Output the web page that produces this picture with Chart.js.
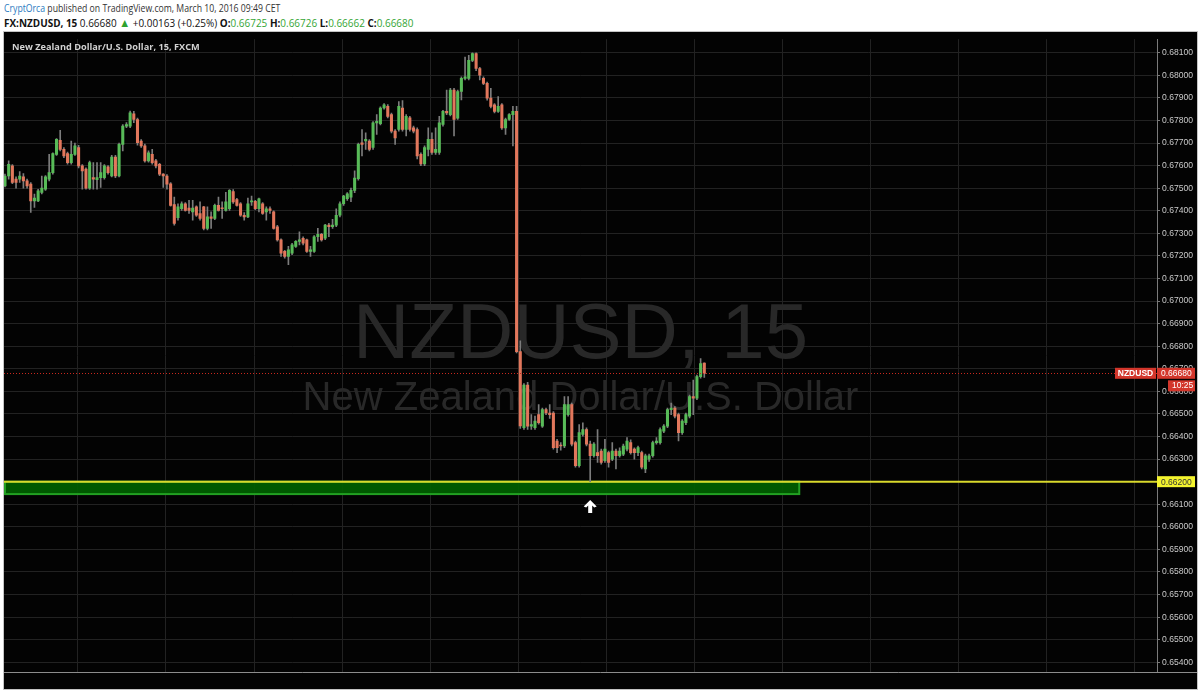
<!DOCTYPE html>
<html><head><meta charset="utf-8">
<script src="https://cdn.jsdelivr.net/npm/chart.js@4.4.0/dist/chart.umd.min.js"></script>
<style>
html,body{margin:0;padding:0;background:#fff;width:1200px;height:693px;overflow:hidden;}
.hdr{position:absolute;left:4px;white-space:nowrap;font-family:"Open Sans",sans-serif;font-size:10.8px;transform-origin:0 0;color:#333;}
#hdr1{top:0px;}
#hdr2{top:14px;color:#111;}
.g{color:#35a535;}
.tri{color:#2fa12f;font-size:12px;}
#panel{position:absolute;left:3px;top:31px;width:1193px;height:657px;border:1px solid #c4c4c4;background:#000;}
#legend{position:absolute;left:12px;top:40px;font:bold 9.5px "Open Sans",sans-serif;color:#d2d2d2;white-space:nowrap;transform-origin:0 0;}
canvas{display:block}
</style></head>
<body>
<div class="hdr" id="hdr1"><span style="color:#2b7bbf">CryptOrca</span> published on TradingView.com, March 10, 2016 09:49 CET</div>
<div class="hdr" id="hdr2"><b>FX:NZDUSD, 15</b> 0.66680 <span class="tri">&#9650;</span> +0.00163 (+0.25%) <b>O:</b><span class="g">0.66725</span> <b>H:</b><span class="g">0.66726</span> <b>L:</b><span class="g">0.66662</span> <b>C:</b><span class="g">0.66680</span></div>
<div id="panel"><canvas id="c" width="1193" height="657"></canvas></div>
<div id="legend">New Zealand Dollar/U.S. Dollar, 15, FXCM</div>
<script>
const opens = [
0.67510,0.67554,0.67599,0.67540,0.67540,0.67550,0.67532,0.67518,0.67444,0.67444,
0.67481,0.67496,0.67540,0.67569,0.67650,0.67712,0.67672,0.67653,0.67613,0.67650,
0.67680,0.67599,0.67584,0.67500,0.67547,0.67538,0.67547,0.67547,0.67594,0.67554,
0.67638,0.67554,0.67694,0.67775,0.67775,0.67829,0.67804,0.67709,0.67687,0.67621,
0.67650,0.67621,0.67606,0.67562,0.67554,
0.67519,0.67427,0.67369,0.67409,0.67431,0.67412,0.67395,0.67417,0.67388,0.67417,
0.67322,0.67373,0.67366,0.67424,0.67412,0.67402,0.67409,0.67485,0.67449,0.67431,
0.67380,0.67373,0.67439,0.67442,0.67409,0.67431,0.67395,0.67409,0.67395,0.67329,
0.67271,0.67220,0.67198,0.67212,0.67242,0.67264,0.67278,0.67271,0.67220,0.67220,
0.67285,0.67296,0.67278,0.67336,0.67329,0.67336,0.67380,0.67431,0.67453,
0.67460,0.67490,
0.67542,0.67701,0.67709,0.67709,0.67680,0.67789,0.67786,0.67855,0.67862,0.67826,
0.67753,0.67760,0.67855,0.67760,0.67811,0.67767,0.67760,0.67650,0.67607,0.67672,
0.67716,0.67658,0.67658,0.67782,0.67840,0.67826,0.67935,0.67810,0.67928,0.67986,
0.67986,0.68066,0.68096,0.68030,0.67986,0.67964,0.67899,0.67869,0.67840,0.67869,
0.67767,0.67804,0.67826,0.67840,0.66776,
0.66439,0.66628,0.66446,0.66439,0.66497,0.66446,0.66519,0.66504,0.66504,0.66380,
0.66360,0.66358,0.66497,0.66541,0.66373,0.66271,0.66409,0.66431,0.66366,0.66315,
0.66329,0.66336,0.66293,0.66329,0.66300,0.66336,0.66315,0.66322,0.66344,0.66373,
0.66344,0.66329,0.66329,0.66256,0.66300,0.66315,0.66373,0.66373,0.66424,0.66446,
0.66519,0.66526,0.66497,0.66417,0.66461,0.66490,0.66577,0.66570,0.66665,0.66725];
const highs = [
0.67562,0.67621,0.67605,0.67550,0.67574,0.67565,0.67540,0.67525,0.67474,0.67495,
0.67554,0.67556,0.67650,0.67657,0.67720,0.67756,0.67680,0.67660,0.67709,0.67700,
0.67690,0.67605,0.67590,0.67620,0.67613,0.67613,0.67613,0.67605,0.67600,0.67645,
0.67645,0.67700,0.67782,0.67790,0.67841,0.67840,0.67810,0.67715,0.67695,0.67665,
0.67672,0.67628,0.67610,0.67565,0.67560,
0.67525,0.67461,0.67431,0.67439,0.67436,0.67446,0.67446,0.67422,0.67439,0.67420,
0.67417,0.67395,0.67430,0.67461,0.67439,0.67482,0.67494,0.67494,0.67455,0.67436,
0.67392,0.67456,0.67465,0.67446,0.67456,0.67436,0.67417,0.67417,0.67400,0.67335,
0.67276,0.67225,0.67242,0.67256,0.67268,0.67307,0.67285,0.67275,0.67242,0.67290,
0.67322,0.67300,0.67340,0.67344,0.67362,0.67409,0.67439,0.67468,0.67480,
0.67500,0.67577,
0.67700,0.67760,0.67745,0.67715,0.67795,0.67826,0.67860,0.67875,0.67870,0.67833,
0.67760,0.67884,0.67888,0.67826,0.67818,0.67775,0.67767,0.67656,0.67687,0.67767,
0.67745,0.67767,0.67818,0.67845,0.67935,0.67942,0.67942,0.67935,0.67993,0.68081,
0.68088,0.68100,0.68100,0.68035,0.67993,0.67970,0.67942,0.67875,0.67906,0.67875,
0.67810,0.67830,0.67862,0.67862,0.66824,
0.66635,0.66640,0.66497,0.66490,0.66541,0.66526,0.66526,0.66541,0.66510,0.66388,
0.66373,0.66577,0.66577,0.66548,0.66380,0.66453,0.66461,0.66438,0.66380,0.66373,
0.66431,0.66344,0.66388,0.66336,0.66373,0.66344,0.66350,0.66366,0.66395,0.66385,
0.66350,0.66358,0.66336,0.66322,0.66322,0.66380,0.66395,0.66438,0.66453,0.66526,
0.66548,0.66533,0.66504,0.66475,0.66504,0.66584,0.66650,0.66672,0.66745,0.66726];
const lows = [
0.67506,0.67540,0.67520,0.67500,0.67525,0.67500,0.67500,0.67393,0.67415,0.67440,
0.67474,0.67490,0.67532,0.67562,0.67645,0.67665,0.67635,0.67606,0.67606,0.67645,
0.67590,0.67496,0.67496,0.67495,0.67496,0.67496,0.67503,0.67540,0.67562,0.67550,
0.67547,0.67550,0.67665,0.67768,0.67768,0.67790,0.67690,0.67680,0.67615,0.67615,
0.67606,0.67590,0.67555,0.67503,0.67496,
0.67420,0.67336,0.67358,0.67402,0.67398,0.67388,0.67358,0.67375,0.67358,0.67315,
0.67315,0.67322,0.67360,0.67398,0.67366,0.67398,0.67402,0.67432,0.67420,0.67375,
0.67358,0.67369,0.67424,0.67405,0.67395,0.67384,0.67358,0.67388,0.67318,0.67265,
0.67198,0.67190,0.67161,0.67205,0.67238,0.67249,0.67249,0.67215,0.67198,0.67215,
0.67264,0.67265,0.67272,0.67285,0.67322,0.67329,0.67373,0.67424,0.67446,
0.67440,0.67480,
0.67535,0.67643,0.67672,0.67665,0.67672,0.67738,0.67780,0.67850,0.67811,0.67745,
0.67694,0.67753,0.67753,0.67731,0.67753,0.67745,0.67630,0.67600,0.67600,0.67643,
0.67650,0.67650,0.67650,0.67775,0.67826,0.67820,0.67731,0.67804,0.67891,0.67979,
0.67980,0.68060,0.68020,0.67979,0.67958,0.67890,0.67855,0.67833,0.67835,0.67760,
0.67738,0.67800,0.67687,0.66770,0.66436,
0.66431,0.66431,0.66431,0.66431,0.66455,0.66440,0.66497,0.66480,0.66344,0.66329,
0.66340,0.66351,0.66490,0.66358,0.66264,0.66264,0.66402,0.66358,0.66200,0.66308,
0.66285,0.66278,0.66285,0.66264,0.66293,0.66256,0.66308,0.66315,0.66336,0.66322,
0.66300,0.66315,0.66256,0.66240,0.66290,0.66308,0.66366,0.66366,0.66417,0.66439,
0.66497,0.66482,0.66380,0.66409,0.66453,0.66482,0.66497,0.66563,0.66658,0.66662];
const closes = [
0.67554,0.67606,0.67525,0.67525,0.67554,0.67532,0.67510,0.67444,0.67456,0.67488,
0.67500,0.67550,0.67569,0.67653,0.67716,0.67672,0.67643,0.67613,0.67650,0.67687,
0.67599,0.67576,0.67500,0.67613,0.67540,0.67547,0.67569,0.67599,0.67569,0.67638,
0.67554,0.67694,0.67775,0.67782,0.67834,0.67804,0.67701,0.67687,0.67621,0.67657,
0.67613,0.67599,0.67562,0.67554,0.67518,
0.67424,0.67344,0.67417,0.67431,0.67402,0.67402,0.67412,0.67380,0.67366,0.67322,
0.67373,0.67366,0.67424,0.67402,0.67409,0.67439,0.67490,0.67439,0.67424,0.67380,
0.67373,0.67431,0.67442,0.67409,0.67453,0.67388,0.67409,0.67402,0.67322,0.67271,
0.67212,0.67198,0.67227,0.67249,0.67264,0.67271,0.67256,0.67220,0.67227,0.67285,
0.67296,0.67271,0.67336,0.67329,0.67336,0.67380,0.67431,0.67465,0.67475,
0.67490,0.67545,
0.67694,0.67694,0.67716,0.67672,0.67789,0.67796,0.67855,0.67869,0.67818,0.67753,
0.67723,0.67862,0.67760,0.67818,0.67760,0.67753,0.67643,0.67607,0.67680,0.67716,
0.67658,0.67672,0.67789,0.67840,0.67833,0.67935,0.67804,0.67928,0.67986,0.67993,
0.68066,0.68096,0.68030,0.68001,0.67964,0.67899,0.67862,0.67840,0.67862,0.67767,
0.67804,0.67826,0.67840,0.66776,0.66447,
0.66628,0.66446,0.66453,0.66468,0.66461,0.66519,0.66504,0.66497,0.66351,0.66351,
0.66358,0.66541,0.66541,0.66366,0.66271,0.66417,0.66431,0.66366,0.66315,0.66366,
0.66315,0.66285,0.66344,0.66285,0.66336,0.66315,0.66336,0.66358,0.66380,0.66329,
0.66329,0.66351,0.66264,0.66315,0.66315,0.66373,0.66380,0.66431,0.66446,0.66519,
0.66526,0.66490,0.66417,0.66468,0.66497,0.66577,0.66570,0.66665,0.66723,0.66680];

const yTicks = [0.654,0.655,0.656,0.657,0.658,0.659,0.660,0.661,0.662,0.663,0.664,0.665,0.666,0.667,
  0.668,0.669,0.670,0.671,0.672,0.673,0.674,0.675,0.676,0.677,0.678,0.679,0.680,0.681];
const symbolName = 'NZDUSD';
const watermarkTitle = 'NZDUSD, 15';
const watermarkSub = 'New Zealand Dollar/U.S. Dollar';
const lastPrice = 0.66680;
const lastPriceLabel = '0.66680';
const countdownLabel = '10:25';
const supportLevel = 0.66200;
const supportLabel = '0.66200';
const zoneBottom = 0.66145;
const zoneEndIndex = 215.8;
const arrowIndex = 159;
const arrowPrice = 0.66119;

const idx = opens.map((_, i) => i);
const UP = '#58bb58', DOWN = '#e2775c';
const xGrid = [];
for (let v = 7.88; v < 313; v += 23.91) xGrid.push(v);
const AXF = '"Liberation Sans", Arial, sans-serif';

const overlay = {
  id: 'overlay',
  beforeDraw(chart) {
    const c = chart.ctx; c.save(); c.fillStyle = '#030303'; c.fillRect(0, 0, chart.width, chart.height); c.restore();
  },
  beforeDatasetsDraw(chart) {
    const { ctx, chartArea: a, scales: { x, y } } = chart;
    ctx.save();
    const cx = (a.left + a.right) / 2, cy = (a.top + a.bottom) / 2;
    ctx.fillStyle = '#282828'; ctx.textAlign = 'center'; ctx.textBaseline = 'alphabetic';
    ctx.font = '78px ' + AXF; ctx.fillText(watermarkTitle, cx, cy + 2);
    ctx.font = '40px ' + AXF; ctx.fillText(watermarkSub, cx, cy + 54);
    const zx1 = x.getPixelForValue(zoneEndIndex), zy0 = y.getPixelForValue(supportLevel), zy1 = y.getPixelForValue(zoneBottom);
    ctx.fillStyle = 'rgba(0,96,0,0.92)'; ctx.fillRect(a.left, zy0, zx1 - a.left, zy1 - zy0);
    ctx.strokeStyle = '#22a022'; ctx.lineWidth = 2; ctx.strokeRect(a.left + 1, zy0, zx1 - a.left - 1, zy1 - zy0);
    ctx.strokeStyle = '#d9d92c'; ctx.lineWidth = 2;
    ctx.beginPath(); ctx.moveTo(a.left, zy0); ctx.lineTo(a.right, zy0); ctx.stroke();
    ctx.restore();
  },
  afterDatasetsDraw(chart) {
    const { ctx, chartArea: a, scales: { x, y } } = chart;
    ctx.save();
    const py = Math.round(y.getPixelForValue(lastPrice)) + 0.5;
    ctx.strokeStyle = '#c8281e'; ctx.lineWidth = 1; ctx.setLineDash([1, 2]);
    ctx.beginPath(); ctx.moveTo(a.left, py); ctx.lineTo(a.right, py); ctx.stroke();
    ctx.setLineDash([]);
    const ax = x.getPixelForValue(arrowIndex), ay = y.getPixelForValue(arrowPrice);
    ctx.fillStyle = '#ffffff'; ctx.beginPath();
    ctx.moveTo(ax, ay); ctx.lineTo(ax + 6.5, ay + 6.5); ctx.lineTo(ax + 4, ay + 7.5); ctx.lineTo(ax + 2, ay + 5.5);
    ctx.lineTo(ax + 2, ay + 13); ctx.lineTo(ax - 2, ay + 13); ctx.lineTo(ax - 2, ay + 5.5);
    ctx.lineTo(ax - 4, ay + 7.5); ctx.lineTo(ax - 6.5, ay + 6.5); ctx.closePath(); ctx.fill();
    ctx.restore();
  },
  afterDraw(chart) {
    const { ctx, chartArea: a, scales: { y } } = chart;
    ctx.save();
    ctx.strokeStyle = '#8c8c8c'; ctx.lineWidth = 1;
    ctx.beginPath(); ctx.moveTo(0, a.bottom + 0.5); ctx.lineTo(chart.width, a.bottom + 0.5); ctx.stroke();
    const py = y.getPixelForValue(lastPrice);
    ctx.fillStyle = '#d3362b';
    ctx.fillRect(a.right, py - 5.5, 38, 11);
    ctx.fillRect(a.right - 42, py - 5.5, 41, 11);
    ctx.fillRect(a.right + 11, py + 7, 27, 11);
    ctx.fillStyle = '#fff'; ctx.textBaseline = 'middle'; ctx.textAlign = 'left';
    ctx.font = '8.5px ' + AXF;
    ctx.fillText(lastPriceLabel, a.right + 4, py + 0.5);
    ctx.fillText(countdownLabel, a.right + 15, py + 12.5);
    ctx.font = 'bold 8.5px ' + AXF; ctx.textAlign = 'center';
    ctx.fillText(symbolName, a.right - 21.5, py + 0.5);
    const sy = y.getPixelForValue(supportLevel);
    ctx.fillStyle = '#f4f42e'; ctx.fillRect(a.right, sy - 5.5, 38, 11);
    ctx.fillStyle = '#333'; ctx.textAlign = 'left'; ctx.font = '8.5px ' + AXF;
    ctx.fillText(supportLabel, a.right + 4, sy + 0.5);
    ctx.restore();
  }
};

new Chart(document.getElementById('c'), {
  type: 'bar',
  data: {
    datasets: [
      { label: 'body', data: idx.map(i => ({ x: i, y: [opens[i], closes[i]] })),
        backgroundColor: idx.map(i => closes[i] >= opens[i] ? UP : DOWN),
        barThickness: 2.4, grouped: false, order: 0, minBarLength: 1, borderWidth: 0 },
      { label: 'wick', data: idx.map(i => ({ x: i, y: [lows[i], highs[i]] })),
        backgroundColor: '#7c7c7c', barThickness: 1, grouped: false, order: 1, borderWidth: 0 }
    ]
  },
  options: {
    responsive: false, animation: false, devicePixelRatio: 1, events: [],
    layout: { padding: 0 },
    plugins: { legend: { display: false }, tooltip: { enabled: false } },
    scales: {
      x: { type: 'linear', min: -0.27, max: 313.0, position: 'bottom', offset: false,
        afterBuildTicks: s => { s.ticks = xGrid.map(v => ({ value: v })); },
        ticks: { display: false }, grid: { color: '#222222', drawTicks: false }, border: { display: false },
        afterFit: s => { s.height = 17; } },
      y: { position: 'right', min: 0.65357, max: 0.68160,
        afterBuildTicks: s => { s.ticks = yTicks.map(v => ({ value: v })); },
        ticks: { color: '#cacaca', font: { family: AXF, size: 8.6 }, padding: 2, callback: v => Number(v).toFixed(5) },
        grid: { color: '#222222', tickColor: '#777', tickLength: 3 },
        border: { color: '#7a7a7a' },
        afterFit: s => { s.width = 40; } }
    }
  },
  plugins: [overlay]
});

function fit(id, w) { const el = document.getElementById(id); el.style.transform = 'scaleX(' + (w / el.offsetWidth) + ')'; }
fit('hdr1', 276); fit('hdr2', 409); fit('legend', 188);
</script>
</body></html>
